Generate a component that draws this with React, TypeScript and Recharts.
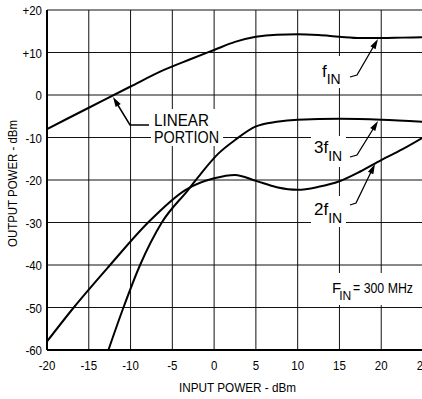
import React from 'react';
import { LineChart, Line, XAxis, YAxis, CartesianGrid } from 'recharts';

const X_TICKS = [-20, -15, -10, -5, 0, 5, 10, 15, 20, 25];
const X_TICK_LABELS = ['-20', '-15', '-10', '-5', '0', '5', '10', '15', '20', '25'];
const Y_TICKS = [-60, -50, -40, -30, -20, -10, 0, 10, 20];
const Y_TICK_LABELS = ['-60', '-50', '-40', '-30', '-20', '-10', '0', '+10', '+20'];

// f_IN (fundamental)
const F1_X = [-20, -15, -10, -6, -3, 0, 2.5, 5, 7.5, 10, 12.5, 15, 17.5, 20, 22.5, 25];
const F1_Y = [-8, -3, 2, 5.9, 8.3, 10.6, 12.5, 13.7, 14.2, 14.3, 14.1, 13.7, 13.4, 13.4, 13.5, 13.6];
// 2f_IN (second harmonic)
const F2_X = [-20, -16.8, -12.45, -7.9, -3.4, 0, 2.5, 5, 7.5, 10, 12.5, 15, 17.5, 20, 22.5, 25];
const F2_Y = [-58, -50, -40, -30, -22.3, -19.6, -18.8, -20.2, -21.7, -22.3, -21.6, -20.3, -18, -15.3, -12.8, -10];
// 3f_IN (third harmonic)
const F3_X = [-12.65, -10.85, -8.86, -6.26, -3.1, -1.5, 0.5, 2.5, 5, 7.5, 10, 15, 20, 25];
const F3_Y = [-60, -50, -40, -30, -22.3, -18.3, -13.8, -10.6, -7.4, -6.3, -5.8, -5.6, -5.8, -6.3];

const toData = (xs: number[], ys: number[]) => xs.map((x, i) => ({ x, y: ys[i] }));
const f1Data = toData(F1_X, F1_Y);
const f2Data = toData(F2_X, F2_Y);
const f3Data = toData(F3_X, F3_Y);

const FONT = '"Liberation Sans", Arial, sans-serif';

const XTick = (props: any) => {
  const { x, payload } = props;
  const i = X_TICKS.indexOf(payload.value);
  return (
    <text
      transform={`translate(${x},370) scale(0.85,1)`}
      textAnchor="middle"
      fontSize={13.5}
      fontFamily={FONT}
      fill="#000"
    >
      {X_TICK_LABELS[i]}
    </text>
  );
};

const YTick = (props: any) => {
  const { y, payload } = props;
  const i = Y_TICKS.indexOf(payload.value);
  return (
    <text
      transform={`translate(42,${y + 5}) scale(0.85,1)`}
      textAnchor="end"
      fontSize={13.5}
      fontFamily={FONT}
      fill="#000"
    >
      {Y_TICK_LABELS[i]}
    </text>
  );
};

const Arrow = ({ from, to }: { from: [number, number]; to: [number, number] }) => {
  const dx = to[0] - from[0];
  const dy = to[1] - from[1];
  const len = Math.sqrt(dx * dx + dy * dy);
  const ux = dx / len;
  const uy = dy / len;
  const L = 10;
  const W = 3;
  const bx = to[0] - ux * L;
  const by = to[1] - uy * L;
  const p1 = `${bx - uy * W},${by + ux * W}`;
  const p2 = `${bx + uy * W},${by - ux * W}`;
  return <polygon points={`${to[0]},${to[1]} ${p1} ${p2}`} fill="#000" />;
};

const Annotations = () => (
  <svg
    width={422}
    height={399}
    style={{ position: 'absolute', left: 0, top: 0, pointerEvents: 'none' }}
  >
    {/* white masks behind labels */}
    <rect x={151} y={109} width={72} height={37} fill="#fff" />
    <rect x={316} y={56} width={30} height={32} fill="#fff" />
    <rect x={311} y={136} width={35} height={31} fill="#fff" />
    <rect x={311} y={196} width={35} height={31} fill="#fff" />
    <rect x={329} y={273} width={90} height={32} fill="#fff" />

    {/* LINEAR PORTION */}
    <text x={154} y={126} fontSize={17} fontFamily={FONT} textLength={55} lengthAdjust="spacingAndGlyphs">
      LINEAR
    </text>
    <text x={154} y={143} fontSize={17} fontFamily={FONT} textLength={65} lengthAdjust="spacingAndGlyphs">
      PORTION
    </text>
    <polyline points="149,125 130,125 116,102" fill="none" stroke="#000" strokeWidth={1.5} />
    <Arrow from={[130, 125]} to={[113, 97]} />

    {/* f_IN */}
    <text x={322} y={77} fontSize={17} fontFamily={FONT}>
      f<tspan dy={7} fontSize={14}>IN</tspan>
    </text>
    <polyline points="350,77 357,75 375,44" fill="none" stroke="#000" strokeWidth={1.3} />
    <Arrow from={[357, 75]} to={[378, 39]} />

    {/* 3f_IN */}
    <text x={314} y={153} fontSize={17} fontFamily={FONT}>
      3f<tspan dy={8} fontSize={14}>IN</tspan>
    </text>
    <polyline points="350,157 357,155 375,126" fill="none" stroke="#000" strokeWidth={1.3} />
    <Arrow from={[357, 155]} to={[378, 121]} />

    {/* 2f_IN */}
    <text x={314} y={215} fontSize={17} fontFamily={FONT}>
      2f<tspan dy={8} fontSize={14}>IN</tspan>
    </text>
    <polyline points="350,205 356,203 372,170" fill="none" stroke="#000" strokeWidth={1.3} />
    <Arrow from={[356, 203]} to={[375, 164]} />

    {/* F_IN = 300 MHz */}
    <text x={332} y={293} fontSize={15} fontFamily={FONT}>
      F<tspan dx={-2} dy={7} fontSize={12}>IN</tspan>
    </text>
    <text x={353} y={293} fontSize={14} fontFamily={FONT} textLength={60} lengthAdjust="spacingAndGlyphs">
      = 300 MHz
    </text>

    {/* axis titles */}
    <text x={179} y={392} fontSize={13} fontFamily={FONT} textLength={117} lengthAdjust="spacingAndGlyphs">
      INPUT POWER - dBm
    </text>
    <text
      transform="translate(17,247) rotate(-90)"
      x={0}
      y={0}
      fontSize={13.5}
      fontFamily={FONT}
      textLength={127}
      lengthAdjust="spacingAndGlyphs"
    >
      OUTPUT POWER - dBm
    </text>
  </svg>
);

export default function App() {
  return (
    <div
      style={{
        position: 'absolute',
        left: 0,
        top: 0,
        width: 422,
        height: 399,
        overflow: 'hidden',
        background: '#fff',
        fontFamily: FONT,
      }}
    >
      <LineChart width={424} height={399} margin={{ top: 10, right: 1, bottom: 0, left: 0 }}>
        <CartesianGrid stroke="#111" strokeWidth={1} />
        <XAxis
          type="number"
          dataKey="x"
          domain={[-20, 25]}
          ticks={X_TICKS}
          allowDataOverflow
          height={49}
          tickLine={false}
          axisLine={{ stroke: '#000', strokeWidth: 2 }}
          tick={<XTick />}
          interval={0}
        />
        <YAxis
          type="number"
          dataKey="y"
          domain={[-60, 20]}
          ticks={Y_TICKS}
          allowDataOverflow
          width={47}
          tickLine={false}
          axisLine={{ stroke: '#000', strokeWidth: 2 }}
          tick={<YTick />}
          interval={0}
        />
        <Line data={f1Data} dataKey="y" type="monotone" stroke="#000" strokeWidth={2} dot={false} isAnimationActive={false} />
        <Line data={f2Data} dataKey="y" type="monotone" stroke="#000" strokeWidth={2} dot={false} isAnimationActive={false} />
        <Line data={f3Data} dataKey="y" type="monotone" stroke="#000" strokeWidth={2} dot={false} isAnimationActive={false} />
      </LineChart>
      <Annotations />
    </div>
  );
}
